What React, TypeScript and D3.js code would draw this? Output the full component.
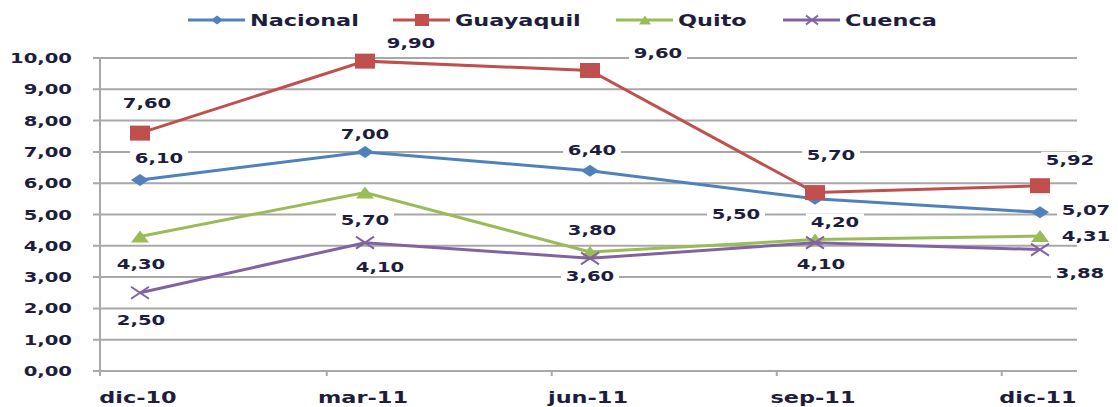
import React from 'react'
import * as d3 from 'd3'

const categories = ['dic-10', 'mar-11', 'jun-11', 'sep-11', 'dic-11']
const seriesNames = ['Nacional', 'Guayaquil', 'Quito', 'Cuenca']
const nacional = [6.10, 7.00, 6.40, 5.50, 5.07]
const guayaquil = [7.60, 9.90, 9.60, 5.70, 5.92]
const quito = [4.30, 5.70, 3.80, 4.20, 4.31]
const cuenca = [2.50, 4.10, 3.60, 4.10, 3.88]
const yTicks = [0, 1, 2, 3, 4, 5, 6, 7, 8, 9, 10]

// where each data label sits relative to its point (dx, dy)
const labelOffsets = [
  [[19, -22], [0, -18], [2, -21], [-79, 15], [46, -2]],
  [[7, -30], [46, -18], [68, -18], [16, -38], [30, -26]],
  [[1, 28], [0, 27], [2, -22], [20, -18], [46, 0]],
  [[1, 27], [15, 24], [0, 18], [6, 21], [40, 23]],
]

const colors = ['#4F81BD', '#C0504D', '#9BBB59', '#8064A2']
const shapes = ['diamond', 'square', 'triangle', 'x']
const legendX = [188, 393, 616, 783]

const SX = 1.4
const FONT = 'DejaVu Sans, Verdana, sans-serif'
const TXT = '#1e1e3c'

function fmt(v: number) {
  return v.toFixed(2).replace('.', ',')
}

function Txt({ x, y, size, anchor = 'middle', children }: any) {
  // text is stretched horizontally like the source picture
  return (
    <text transform={`translate(${x},${y}) scale(${SX},1)`} fontSize={size} fontWeight="bold"
      fontFamily={FONT} fill={TXT} textAnchor={anchor}>{children}</text>
  )
}

function Marker({ shape, x, y, color, w, h }: any) {
  if (shape === 'diamond') {
    return <path d={`M${x - w / 2},${y}L${x},${y - h / 2}L${x + w / 2},${y}L${x},${y + h / 2}Z`} fill={color} />
  }
  if (shape === 'square') {
    return <rect x={x - w / 2} y={y - h / 2} width={w} height={h} fill={color} />
  }
  if (shape === 'triangle') {
    return <path d={`M${x - w / 2},${y + h / 2}L${x},${y - h / 2}L${x + w / 2},${y + h / 2}Z`} fill={color} />
  }
  return (
    <path d={`M${x - w / 2},${y - h / 2}L${x + w / 2},${y + h / 2}M${x - w / 2},${y + h / 2}L${x + w / 2},${y - h / 2}`}
      stroke={color} strokeWidth={2} />
  )
}

export default function App() {
  const width = 1118
  const height = 407
  const series = [nacional, guayaquil, quito, cuenca]

  const x = d3.scalePoint().domain(categories).range([140, 1040])
  const y = d3.scaleLinear().domain([0, 10]).range([371, 58])
  const step = x.step()

  const line = d3.line<number>()
    .x((_, i) => x(categories[i]) as number)
    .y(d => y(d))

  const labels = series.flatMap((s, si) => s.map((v, i) => ({
    key: `${si}-${i}`,
    v,
    cx: (x(categories[i]) as number) + labelOffsets[si][i][0],
    cy: y(v) + labelOffsets[si][i][1],
  })))

  return (
    <svg width={width} height={height} style={{ position: 'absolute', left: 0, top: 0 }}>
      <rect width={width} height={height} fill="#fff" />

      {yTicks.map(t => (
        <g key={t}>
          <line x1={93} x2={1077} y1={y(t)} y2={y(t)} stroke="#a8a8a8" strokeWidth={2} />
          <Txt x={72} y={y(t) + 5} size={14} anchor="end">{fmt(t)}</Txt>
        </g>
      ))}
      <line x1={100} x2={100} y1={y(10)} y2={y(0) + 5} stroke="#a8a8a8" strokeWidth={2} />
      {categories.slice(1).map(c => (
        <line key={c} x1={(x(c) as number) - step * 0.17} x2={(x(c) as number) - step * 0.17}
          y1={y(0)} y2={y(0) + 5} stroke="#a8a8a8" strokeWidth={2} />
      ))}
      {categories.map(c => (
        <Txt key={c} x={(x(c) as number) - 2} y={403} size={16}>{c}</Txt>
      ))}

      {labels.map(l => (
        <rect key={l.key} x={l.cx - 29} y={l.cy - 8} width={58} height={16} fill="#fff" />
      ))}

      {series.map((s, si) => (
        <g key={si}>
          <path d={line(s) as string} fill="none" stroke={colors[si]} strokeWidth={3} />
          {s.map((v, i) => (
            <Marker key={i} shape={shapes[si]} x={x(categories[i])} y={y(v)} color={colors[si]}
              w={shapes[si] === 'square' ? 20 : 18} h={shapes[si] === 'square' ? 15 : 12} />
          ))}
        </g>
      ))}

      {labels.map(l => (
        <Txt key={l.key} x={l.cx} y={l.cy + 5} size={14}>{fmt(l.v)}</Txt>
      ))}

      {seriesNames.map((n, si) => (
        <g key={n}>
          <line x1={legendX[si]} x2={legendX[si] + 57} y1={20} y2={20} stroke={colors[si]} strokeWidth={3} />
          <Marker shape={shapes[si]} x={legendX[si] + 29} y={20} color={colors[si]}
            w={shapes[si] === 'square' ? 14 : 12} h={shapes[si] === 'square' ? 12 : 9} />
          <Txt x={legendX[si] + 62} y={26} size={16} anchor="start">{n}</Txt>
        </g>
      ))}
    </svg>
  )
}
